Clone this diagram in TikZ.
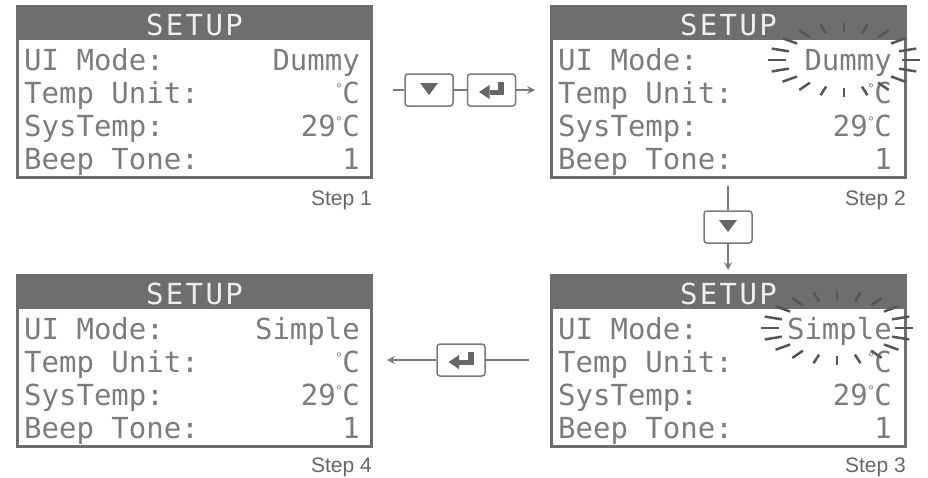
\documentclass[tikz,border=0pt]{standalone}
\usepackage{fontspec}
\setmainfont{Liberation Sans}
\newfontfamily\lcdfont{DejaVu Sans Mono}
\newfontfamily\degfont{DejaVu Sans}
\usetikzlibrary{arrows.meta,calc}
\definecolor{lcdgray}{HTML}{6E6E6E}
\definecolor{lcdtext}{HTML}{7C7C7C}
\definecolor{hdtext}{HTML}{EEEEEE}
\definecolor{linegray}{HTML}{7A7A7A}
\definecolor{icongray}{HTML}{666666}
\definecolor{raygray}{HTML}{555555}
\definecolor{labelgray}{HTML}{666666}

\newcommand\degC{{\degfont\fontsize{13}{13}\selectfont\raisebox{10pt}{°}}C}

\tikzset{
  lcdbox/.style={draw=lcdgray, line width=3pt, minimum width=354pt, minimum height=171pt, inner sep=0pt, outer sep=0pt},
  lcdhead/.style={fill=lcdgray, minimum width=354pt, minimum height=33pt, inner sep=0pt, outer sep=0pt},
  lcdtxt/.style={font=\lcdfont\fontsize{29}{29}\selectfont, text=lcdtext, inner sep=0pt},
  hdtxt/.style={font=\lcdfont\fontsize{29}{29}\selectfont\addfontfeature{LetterSpace=8}, text=hdtext, inner sep=0pt},
  steplbl/.style={font=\fontsize{21}{21}\selectfont, text=labelgray, inner sep=0pt, anchor=base east},
  btn/.style={draw=linegray, line width=1.5pt, rounded corners=3pt, fill=white, minimum width=48pt, minimum height=32pt, inner sep=0pt},
  conn/.style={draw=linegray, line width=1.5pt},
  connarrow/.style={conn, -{Stealth[length=8pt,width=8pt,inset=3pt]}},
  ray/.style={draw=raygray, line width=2.5pt},
}

% #1 name, #2 x, #3 y, #4 value, #5 value right offset
\newcommand\lcdscreen[5]{%
  \node[lcdhead, anchor=north west] (#1h) at (#2,#3) {};
  \node[lcdbox, anchor=north west] (#1) at (#2,#3) {};
  \node[hdtxt, anchor=base] (#1t) at ([shift={(177,28.5)}]#1.north west) {SETUP};
  \node[lcdtxt, anchor=base west] (#1a) at ([shift={(6.5,63.5)}]#1.north west) {UI Mode:};
  \node[lcdtxt, anchor=base west] (#1b) at ([shift={(6.5,96.5)}]#1.north west) {Temp Unit:};
  \node[lcdtxt, anchor=base west] (#1c) at ([shift={(6.5,129.5)}]#1.north west) {SysTemp:};
  \node[lcdtxt, anchor=base west] (#1d) at ([shift={(6.5,163)}]#1.north west) {Beep Tone:};
  \node[lcdtxt, anchor=base east] (#1av) at ([shift={(#5,63.5)}]#1.north west) {#4};
  \node[lcdtxt, anchor=base east] (#1bv) at ([shift={(#5,96.5)}]#1.north west) {\degC};
  \node[lcdtxt, anchor=base east] (#1cv) at ([shift={(#5,129.5)}]#1.north west) {29\degC};
  \node[lcdtxt, anchor=base east] (#1dv) at ([shift={(#5,163)}]#1.north west) {1};
}

\newcommand\flash[2]{%
  \foreach \a in {0,18,...,342}{%
    \draw[ray] ($(#1,#2)+({58*cos(\a)},{-28*sin(\a)})$) -- ($(#1,#2)+({76*cos(\a)},{-37*sin(\a)})$);
  }%
}

\newcommand\downicon{%
  \fill[icongray] (-9,-7) -- (9,-7) -- (0,5) -- cycle;
}
\newcommand\entericon{%
  \fill[icongray] (-12.5,2) -- (-2,-5) -- (-2,9) -- cycle;
  \fill[icongray] (-2,-0.5) rectangle (12.5,4.5);
  \fill[icongray] (6.5,-8) rectangle (12.5,4.5);
}

\begin{document}
\begin{tikzpicture}[x=1pt,y=-1pt]
\useasboundingbox (0,0) rectangle (928,477);

\lcdscreen{s1}{17.5}{6.5}{Dummy}{342.5}
\lcdscreen{s2}{551.5}{6.5}{Dummy}{340.5}
\lcdscreen{s3}{551.5}{275.5}{Simple}{340.5}
\lcdscreen{s4}{17.5}{275.5}{Simple}{342.5}

\flash{844}{60}
\flash{837}{328}

\node[steplbl] (l1) at (372,205) {Step 1};
\node[steplbl] (l2) at (906,205) {Step 2};
\node[steplbl] (l3) at (906,472) {Step 3};
\node[steplbl] (l4) at (372,472) {Step 4};

% buttons
\node[btn] (b1) at (429,90) {};
\node[btn] (b2) at (491.5,90) {};
\node[btn] (b3) at (728,227) {};
\node[btn] (b4) at (461,360) {};

\begin{scope}[shift={(b1.center)}]\downicon\end{scope}
\begin{scope}[shift={(b2.center)}]\entericon\end{scope}
\begin{scope}[shift={(b3.center)}]\downicon\end{scope}
\begin{scope}[shift={(b4.center)}]\entericon\end{scope}

% connectors
\coordinate (c1) at (393,90);
\coordinate (c2) at (535,90);
\coordinate (c3) at (728,186);
\coordinate (c4) at (728,270);
\coordinate (c5) at (529,360);
\coordinate (c6) at (387,360);

\draw[conn] (c1) -- (b1);
\draw[conn] (b1) -- (b2);
\draw[connarrow] (b2) -- (c2);
\draw[conn] (c3) -- (b3);
\draw[connarrow] (b3) -- (c4);
\draw[conn] (c5) -- (b4);
\draw[connarrow] (b4) -- (c6);
\end{tikzpicture}
\end{document}
